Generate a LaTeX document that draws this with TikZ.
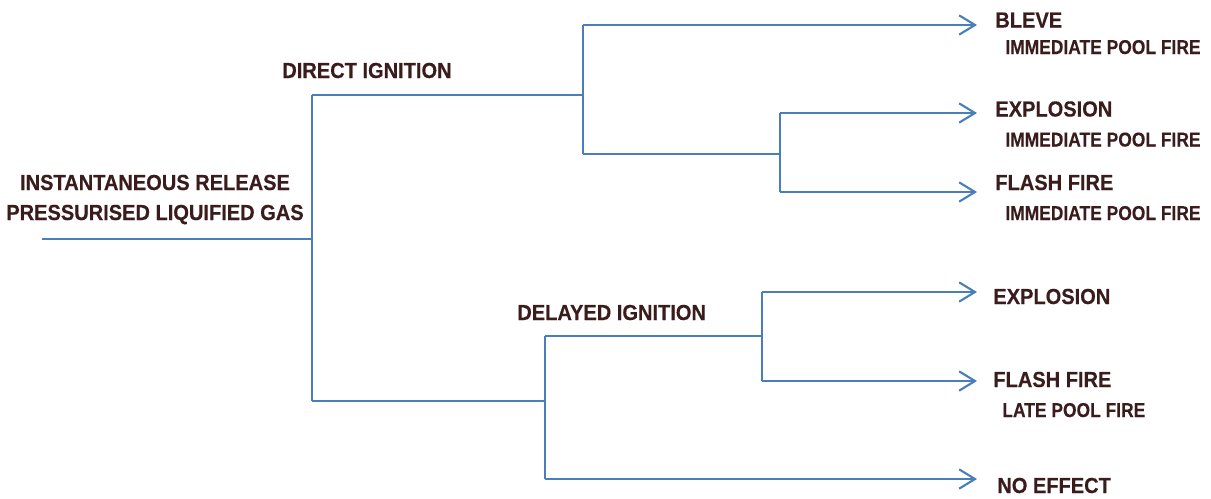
\documentclass[tikz,border=0pt]{standalone}
\usepackage{fontspec}
\setmainfont{Liberation Sans}
\newfontfamily\bigf[FakeStretch=0.92,FakeBold=0.4]{Liberation Sans}
\newfontfamily\smallf[FakeStretch=0.87,FakeBold=0.2]{Liberation Sans}
\usetikzlibrary{arrows.meta}
\definecolor{lineblue}{HTML}{4A7EBB}
\definecolor{txt}{HTML}{3A1C1C}
\begin{document}
\begin{tikzpicture}[x=0.02cm,y=-0.02cm,
  conn/.style={draw=lineblue,line width=1.2pt},
  arr/.style={conn,-{Straight Barb[length=9pt,width=11pt]}},
  big/.style={text=txt,font=\bigf\bfseries\fontsize{12.4}{14}\selectfont,inner sep=0pt,anchor=base west},
  sub/.style={text=txt,font=\smallf\bfseries\fontsize{11.4}{13}\selectfont,inner sep=0pt,anchor=base west}]
\useasboundingbox (0,0) rectangle (1211,498);

% labels
\node[big,anchor=base] (root1) at (155,190) {INSTANTANEOUS RELEASE};
\node[big,anchor=base] (root2) at (155,220) {PRESSURISED LIQUIFIED GAS};
\node[big] (direct) at (282,78) {DIRECT IGNITION};
\node[big] (delayed) at (517,320) {DELAYED IGNITION};
\node[big] (bleve) at (995,27.5) {BLEVE};
\node[sub] (ipf1) at (1005,54) {IMMEDIATE POOL FIRE};
\node[big] (expl1) at (995,116.5) {EXPLOSION};
\node[sub] (ipf2) at (1005,146.5) {IMMEDIATE POOL FIRE};
\node[big] (flash1) at (995,190) {FLASH FIRE};
\node[sub] (ipf3) at (1005,220) {IMMEDIATE POOL FIRE};
\node[big] (expl2) at (993,304) {EXPLOSION};
\node[big] (flash2) at (993,387) {FLASH FIRE};
\node[sub] (lpf) at (1002,417) {LATE POOL FIRE};
\node[big] (noeff) at (997,493) {NO EFFECT};

% junctions and arrow ends
\coordinate (start) at (42,239);
\coordinate (j0) at (312,239);
\coordinate (j1) at (583,95);
\coordinate (j2) at (780,154);
\coordinate (j3) at (545,401);
\coordinate (j4) at (762,336);
\coordinate (e1) at (977,25);
\coordinate (e2) at (977,113);
\coordinate (e3) at (977,192);
\coordinate (e4) at (977,292);
\coordinate (e5) at (977,381);
\coordinate (e6) at (977,479);

% connectors
\draw[conn] (start) -- (j0);
\draw[conn] (j0 |- j1) -- (j0 |- j3);
\draw[conn] (j0 |- j1) -- (j1);
\draw[conn] (j0 |- j3) -- (j3);
\draw[conn] (j1 |- e1) -- (j1 |- j2);
\draw[arr] (j1 |- e1) -- (e1);
\draw[conn] (j1 |- j2) -- (j2);
\draw[conn] (j2 |- e2) -- (j2 |- e3);
\draw[arr] (j2 |- e2) -- (e2);
\draw[arr] (j2 |- e3) -- (e3);
\draw[conn] (j3 |- j4) -- (j3 |- e6);
\draw[conn] (j3 |- j4) -- (j4);
\draw[arr] (j3 |- e6) -- (e6);
\draw[conn] (j4 |- e4) -- (j4 |- e5);
\draw[arr] (j4 |- e4) -- (e4);
\draw[arr] (j4 |- e5) -- (e5);
\end{tikzpicture}
\end{document}
